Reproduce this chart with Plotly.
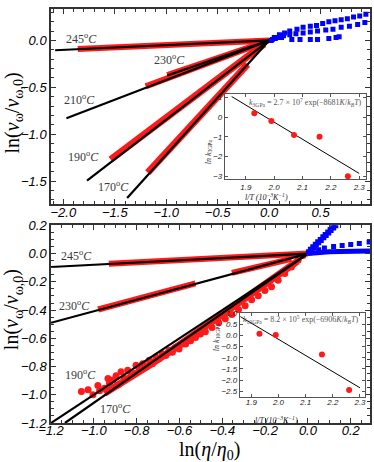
import plotly.graph_objects as go

# ---- top panel (3 GPa) ----
fit_top = {
    "245": ([-2.08, 0.0], [-0.105, 0.0]),
    "230": ([-0.99, 0.0], [-0.375, 0.0]),
    "210": ([-1.97, 0.0], [-0.83, 0.0]),
    "190": ([-1.77, 0.0], [-1.495, 0.0]),
    "170": ([-1.38, 0.0], [-1.68, 0.0]),
}
red_top_245_x = [-1.86, -1.5, -1.0, -0.5, -0.1, 0.0]
red_top_245_y = [-0.092, -0.075, -0.05, -0.026, -0.006, 0.0]
red_top_230_x = [-0.99, -0.7, -0.4, -0.1, -0.03]
red_top_230_y = [-0.37, -0.255, -0.15, -0.04, -0.01]
red_top_210_x = [-1.2, -0.9, -0.6, -0.3, -0.05]
red_top_210_y = [-0.49, -0.37, -0.25, -0.125, -0.02]
red_top_190_x = [-1.54, -1.2, -0.9, -0.6, -0.3, -0.05]
red_top_190_y = [-1.27, -0.99, -0.74, -0.5, -0.25, -0.04]
red_top_170_x = [-1.18, -0.95, -0.7, -0.45, -0.21]
red_top_170_y = [-1.41, -1.14, -0.85, -0.55, -0.255]

blue_top_x = [0.05, 0.10, 0.15, 0.20, 0.27, 0.33, 0.40, 0.46, 0.52, 0.58, 0.64, 0.70, 0.76, 0.82, 0.88, 0.94,
              0.03, 0.08, 0.14, 0.20, 0.26, 0.33, 0.40, 0.47, 0.55, 0.62, 0.70, 0.78, 0.86, 0.93,
              0.02, 0.06, 0.12, 0.22, 0.30, 0.40, 0.47, 0.58, 0.65, 0.68]
blue_top_y = [0.03, 0.06, 0.08, 0.10, 0.12, 0.14, 0.15, 0.16, 0.18, 0.20, 0.21, 0.22, 0.23, 0.25, 0.26, 0.28,
              0.01, 0.03, 0.05, 0.06, 0.07, 0.08, 0.09, 0.10, 0.11, 0.12, 0.14, 0.15, 0.17, 0.19,
              0.0, 0.02, 0.03, 0.01, 0.01, 0.01, 0.01, 0.02, 0.03, 0.04]

# ---- bottom panel (10 GPa) ----
fit_bot = {
    "245": ([-1.2, 0.0], [-0.095, 0.0]),
    "230": ([-1.2, 0.0], [-0.49, 0.0]),
    "190": ([-1.2, 0.0], [-1.2, 0.0]),
    "170": ([-1.135, 0.0], [-1.2, 0.0]),
}
red_bot_245_x = [-0.93, -0.6, -0.3, -0.05, 0.0]
red_bot_245_y = [-0.072, -0.047, -0.024, -0.004, 0.0]
red_bot_230_x = [-0.98, -0.75, -0.525, None, -0.355, -0.2, -0.077]
red_bot_230_y = [-0.396, -0.305, -0.211, None, -0.137, -0.08, -0.037]
red_bot_190_x = [-1.058, -1.027, -1.004, -0.981, -0.973, -0.950, -0.934, -0.927, -0.911, -0.896, -0.888,
                 -0.873, -0.857, -0.842, -0.826, -0.811, -0.803, -0.788, -0.772, -0.757, -0.741, -0.726,
                 -0.710, -0.695, -0.680, -0.664, -0.649, -0.633, -0.618, -0.602, -0.587, -0.571, -0.548,
                 -0.525, -0.502, -0.479, -0.448, -0.417, -0.386, -0.355, -0.324, -0.293, -0.263, -0.232,
                 -0.201, -0.170, -0.139, -0.108, -0.077, -0.046, -0.023]
red_bot_190_y = [-0.977, -0.965, -1.000, -0.935, -0.972, -0.954, -0.884, -0.919, -0.896, -0.865, -0.930,
                 -0.837, -0.884, -0.826, -0.861, -0.849, -0.791, -0.814, -0.780, -0.803, -0.756, -0.780,
                 -0.733, -0.745, -0.710, -0.721, -0.687, -0.698, -0.663, -0.675, -0.640, -0.640, -0.617,
                 -0.594, -0.570, -0.554, -0.524, -0.489, -0.461, -0.431, -0.396, -0.369, -0.327, -0.299,
                 -0.262, -0.234, -0.188, -0.141, -0.095, -0.048, -0.014]
red_bot_170_x = [-0.95, -0.85, -0.75, -0.65, -0.55, -0.45, -0.35, -0.25, -0.15, -0.05]
red_bot_170_y = [-0.99, -0.90, -0.80, -0.70, -0.59, -0.49, -0.38, -0.27, -0.165, -0.055]

blue_bot_steep_x = [0.005, 0.014, 0.025, 0.037, 0.048, 0.06, 0.072, 0.083, 0.095, 0.106, 0.118, 0.128]
blue_bot_steep_y = [0.01, 0.028, 0.045, 0.063, 0.08, 0.097, 0.115, 0.132, 0.15, 0.167, 0.185, 0.2]
blue_bot_mid_x = [0.02, 0.05, 0.077, 0.12, 0.16, 0.20, 0.24, 0.286]
blue_bot_mid_y = [0.012, 0.028, 0.04, 0.05, 0.058, 0.065, 0.072, 0.082]
blue_bot_low_x = [0.0, 0.05, 0.1, 0.15, 0.2, 0.25, 0.29]
blue_bot_low_y = [0.0, 0.01, 0.013, 0.015, 0.016, 0.017, 0.018]

# ---- insets ----
inv_T_3 = [1.93, 1.99, 2.07, 2.16, 2.26]
lnk_3 = [0.2, -0.2, -0.9, -1.0, -3.0]
fit3_x = [1.85, 2.3]
fit3_y = [1.05, -2.86]
inv_T_10 = [1.93, 1.99, 2.16, 2.26]
lnk_10 = [0.08, 0.02, -0.85, -2.45]
fit10_x = [1.86, 2.3]
fit10_y = [0.85, -2.35]

fig = go.Figure()

def add_red_band(x, y, xa, ya, w=6):
    fig.add_trace(go.Scatter(x=x, y=y, mode="lines", xaxis=xa, yaxis=ya,
                             line=dict(color="#ff1a1a", width=w), showlegend=False))

def add_fit(x, y, xa, ya):
    fig.add_trace(go.Scatter(x=x, y=y, mode="lines", xaxis=xa, yaxis=ya,
                             line=dict(color="black", width=2.2), showlegend=False))

# top
add_red_band(red_top_245_x, red_top_245_y, "x", "y")
add_red_band(red_top_230_x, red_top_230_y, "x", "y")
add_red_band(red_top_210_x, red_top_210_y, "x", "y")
add_red_band(red_top_190_x, red_top_190_y, "x", "y", 7)
add_red_band(red_top_170_x, red_top_170_y, "x", "y", 7)
for k in fit_top:
    add_fit(fit_top[k][0], fit_top[k][1], "x", "y")
fig.add_trace(go.Scatter(x=blue_top_x, y=blue_top_y, mode="markers", xaxis="x", yaxis="y",
                         marker=dict(symbol="square", size=5, color="#0000ff"), showlegend=False))

# bottom
add_red_band(red_bot_245_x, red_bot_245_y, "x2", "y2")
add_red_band(red_bot_230_x, red_bot_230_y, "x2", "y2")
fig.add_trace(go.Scatter(x=red_bot_170_x, y=red_bot_170_y, mode="lines", xaxis="x2", yaxis="y2",
                         line=dict(color="#ff1a1a", width=7), showlegend=False))
fig.add_trace(go.Scatter(x=red_bot_190_x, y=red_bot_190_y, mode="markers", xaxis="x2", yaxis="y2",
                         marker=dict(size=7, color="#ff1a1a"), showlegend=False))
for k in fit_bot:
    add_fit(fit_bot[k][0], fit_bot[k][1], "x2", "y2")
fig.add_trace(go.Scatter(x=blue_bot_low_x, y=blue_bot_low_y, mode="lines", xaxis="x2", yaxis="y2",
                         line=dict(color="#0000ff", width=5), showlegend=False))
fig.add_trace(go.Scatter(x=blue_bot_mid_x, y=blue_bot_mid_y, mode="markers", xaxis="x2", yaxis="y2",
                         marker=dict(symbol="square", size=5, color="#0000ff"), showlegend=False))
fig.add_trace(go.Scatter(x=blue_bot_steep_x, y=blue_bot_steep_y, mode="markers", xaxis="x2", yaxis="y2",
                         marker=dict(symbol="square", size=6, color="#0000ff"), showlegend=False))

# insets
fig.add_trace(go.Scatter(x=fit3_x, y=fit3_y, mode="lines", xaxis="x3", yaxis="y3",
                         line=dict(color="black", width=1), showlegend=False))
fig.add_trace(go.Scatter(x=inv_T_3, y=lnk_3, mode="markers", xaxis="x3", yaxis="y3",
                         marker=dict(size=6, color="#ff1a1a"), showlegend=False))
fig.add_trace(go.Scatter(x=fit10_x, y=fit10_y, mode="lines", xaxis="x4", yaxis="y4",
                         line=dict(color="black", width=1), showlegend=False))
fig.add_trace(go.Scatter(x=inv_T_10, y=lnk_10, mode="markers", xaxis="x4", yaxis="y4",
                         marker=dict(size=6, color="#ff1a1a"), showlegend=False))

tickfont = dict(family="Liberation Sans", size=13, color="black", style="italic")
main_ax = dict(showgrid=False, zeroline=False, showline=True, linecolor="#333", linewidth=1.5,
               mirror="allticks", ticks="inside", ticklen=5, tickcolor="#333", tickfont=tickfont,
               tickformat=".1f", minor=dict(ticks="inside", ticklen=3, tickcolor="#333"))
inset_font = dict(family="Liberation Sans", size=8, color="#222", style="italic")
inset_ax = dict(showgrid=False, zeroline=False, showline=True, linecolor="#555", linewidth=1,
                mirror="allticks", ticks="inside", ticklen=3, tickcolor="#555", tickfont=inset_font)

fig.update_layout(
    width=374, height=462, margin=dict(l=51, r=2, t=2, b=39),
    plot_bgcolor="white", paper_bgcolor="white", showlegend=False, hovermode=False,
    xaxis=dict(main_ax, domain=[0, 1], anchor="y", range=[-2.12, 0.98], dtick=0.5, minor_dtick=0.1,
               ticklabelstandoff=-4),
    yaxis=dict(main_ax, domain=[0.53, 1], anchor="x", range=[-1.74, 0.335], dtick=0.5, minor_dtick=0.1),
    xaxis2=dict(main_ax, domain=[0, 1], anchor="y2", range=[-1.2, 0.29], dtick=0.2, minor_dtick=0.05,
                ticklabelstandoff=-5),
    yaxis2=dict(main_ax, domain=[0, 0.4774], anchor="x2", range=[-1.2, 0.2], dtick=0.2, minor_dtick=0.05),
    xaxis3=dict(inset_ax, domain=[0.545, 0.9875], anchor="y3", range=[1.826, 2.324], dtick=0.1,
                tickformat=".1f"),
    yaxis3=dict(inset_ax, domain=[0.589, 0.7957], anchor="x3", range=[-3.15, 1.2], dtick=1),
    xaxis4=dict(inset_ax, domain=[0.592, 0.984], anchor="y4", range=[1.858, 2.318], dtick=0.1,
                tickformat=".1f", ticklabelstandoff=-2),
    yaxis4=dict(inset_ax, domain=[0.064, 0.266], anchor="x4", range=[-2.74, 1.02], dtick=0.5,
                tickformat=".1f"),
)

serif = "Liberation Serif"
temp_font = dict(family=serif, size=12, color="#3a3a3a")
def temp(label, x, y, xr, yr):
    fig.add_annotation(text=label + "<sup>o</sup><i>C</i>", x=x, y=y, xref=xr, yref=yr,
                       showarrow=False, font=temp_font)

temp("245", -1.82, 0.02, "x", "y")
temp("230", -0.97, -0.2, "x", "y")
temp("210", -1.84, -0.63, "x", "y")
temp("190", -1.80, -1.24, "x", "y")
temp("170", -1.51, -1.56, "x", "y")
temp("245", -1.08, -0.016, "x2", "y2")
temp("230", -1.09, -0.37, "x2", "y2")
temp("190", -1.06, -0.86, "x2", "y2")
temp("170", -0.90, -1.10, "x2", "y2")

def px(x):
    return (x - 51) / 321

def py(y):
    return (423 - y) / 421

title_font = dict(family=serif, size=20, color="black")
ylab = "ln(<i>v</i><sub>ω</sub>/<i>v</i><sub>ω,0</sub>)"
for yc in [108, 308]:
    fig.add_annotation(text=ylab, textangle=-90, x=px(13), y=py(yc), xref="paper", yref="paper",
                       showarrow=False, font=title_font, xanchor="center", yanchor="middle")
fig.add_annotation(text="ln(<i>η</i>/<i>η</i><sub>0</sub>)", x=px(210), y=py(451),
                   xref="paper", yref="paper", showarrow=False, font=title_font,
                   xanchor="center", yanchor="middle")

small = dict(family=serif, size=8, color="#555")
fig.add_annotation(text="<i>k</i><sub>3GPa</sub> = 2.7 × 10<sup>7</sup> exp(−8681<i>K</i>/<i>k<sub>B</sub>T</i>)",
                   x=px(307), y=py(97), xref="paper", yref="paper",
                   showarrow=False, font=small, xanchor="center", yanchor="middle")
fig.add_annotation(text="<i>k</i><sub>10GPa</sub> = 8.2 × 10<sup>5</sup> exp(−6906<i>K</i>/<i>k<sub>B</sub>T</i>)",
                   x=px(302), y=py(318), xref="paper", yref="paper",
                   showarrow=False, font=small, xanchor="center", yanchor="middle")
lab_font = dict(family=serif, size=8, color="#222")
fig.add_annotation(text="<i>ln k</i><sub>3GPa</sub>", textangle=-90, x=px(210), y=py(133),
                   xref="paper", yref="paper", showarrow=False, font=lab_font)
fig.add_annotation(text="<i>ln k</i><sub>10GPa</sub>", textangle=-90, x=px(218), y=py(352),
                   xref="paper", yref="paper", showarrow=False, font=lab_font)
fig.add_annotation(text="<i>l/T (10<sup>−3</sup>K<sup>−1</sup>)</i>", x=px(292), y=py(193),
                   xref="paper", yref="paper", showarrow=False, font=lab_font)
fig.add_annotation(text="<i>l/T (10<sup>−3</sup>K<sup>−1</sup>)</i>", x=px(302), y=py(420),
                   xref="paper", yref="paper", showarrow=False, font=lab_font, yanchor="middle")

fig.write_html("out.html", config={"displayModeBar": False},
               post_script="document.body.style.margin='0px';")
